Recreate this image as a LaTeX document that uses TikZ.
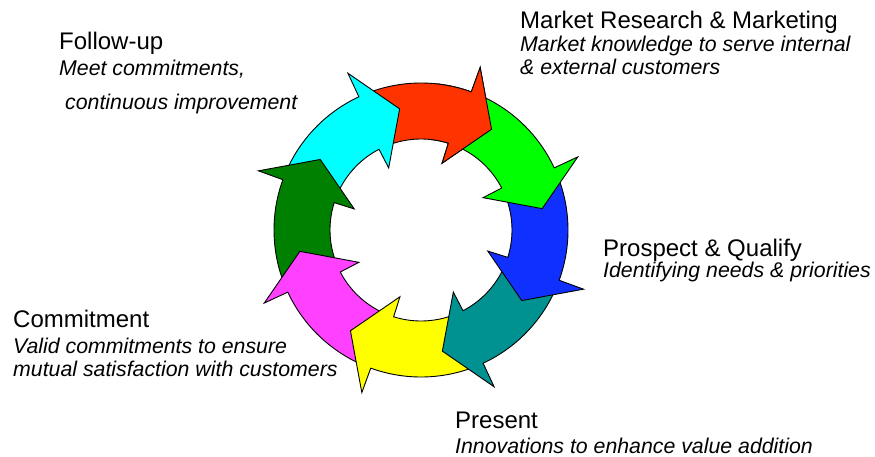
\documentclass[tikz,border=0pt]{standalone}
\usepackage{fontspec}
\setmainfont{Liberation Sans}
\usetikzlibrary{positioning}

\definecolor{cycred}{RGB}{255,51,0}
\definecolor{cycgreen}{RGB}{0,255,0}
\definecolor{cycblue}{RGB}{16,48,255}
\definecolor{cycteal}{RGB}{0,145,145}
\definecolor{cycyellow}{RGB}{255,255,0}
\definecolor{cycmagenta}{RGB}{255,64,255}
\definecolor{cycdkgreen}{RGB}{0,128,0}
\definecolor{cyccyan}{RGB}{0,255,255}

% one curved arrow of the cycle, #1 = angle of the tip, #2 = fill colour
\newcommand{\cycarrow}[2]{%
  \filldraw[fill=#2, draw=black, line width=0.9pt, line join=miter]
    ({#1+60}:147pt) arc[start angle={#1+60}, end angle={#1+15}, radius=147pt]
    -- ({#1+15}:173pt) -- (#1:123pt) -- ({#1+17.5}:70pt)
    -- ({#1+17.5}:91pt) arc[start angle={#1+17.5}, end angle={#1+60}, radius=91pt]
    -- cycle;}

\begin{document}
\begin{tikzpicture}[x=1pt, y=1pt]
  \tikzset{title/.style={anchor=base west, inner sep=0pt, font=\fontsize{24}{28}\selectfont},
           desc/.style={anchor=base west, inner sep=0pt, align=left, font=\fontsize{21.3}{23}\selectfont\itshape}}
  \useasboundingbox (0,0) rectangle (875,456);
  \coordinate (ctr) at (421,226);

  % the ring of arrows
  \begin{scope}[shift={(ctr)}]
    \foreach \tip/\col in {55/cycred, 100/cyccyan, 145/cycdkgreen, 190/cycmagenta,
                           235/cycyellow, 280/cycteal, 325/cycblue, 370/cycgreen}
      {\cycarrow{\tip}{\col}}
    \begin{scope}
      \clip (0,0) -- (40:230pt) arc[start angle=40, end angle=84, radius=230pt] -- cycle;
      \cycarrow{55}{cycred}
    \end{scope}
  \end{scope}

  % the labels (base of a multi-line node = its last line)
  \node[title] (follow) at (59,406) {Follow-up};
  \node[desc] (followtxt) at (59,346) {Meet commitments,\\[11pt]\hspace{6pt}continuous improvement};

  \node[title] (market) at (520,427) {Market Research \& Marketing};
  \node[desc] (markettxt) at (520,381) {Market knowledge to serve internal\\\& external customers};

  \node[title] (prospect) at (603,200) {Prospect \& Qualify};
  \node[desc] (prospecttxt) at (603,179) {Identifying needs \& priorities};

  \node[title] (commit) at (13,129) {Commitment};
  \node[desc] (committxt) at (13,80) {Valid commitments to ensure\\mutual satisfaction with customers};

  \node[title] (present) at (455,28) {Present};
  \node[desc] (presenttxt) at (455,3) {Innovations to enhance value addition};
\end{tikzpicture}
\end{document}
